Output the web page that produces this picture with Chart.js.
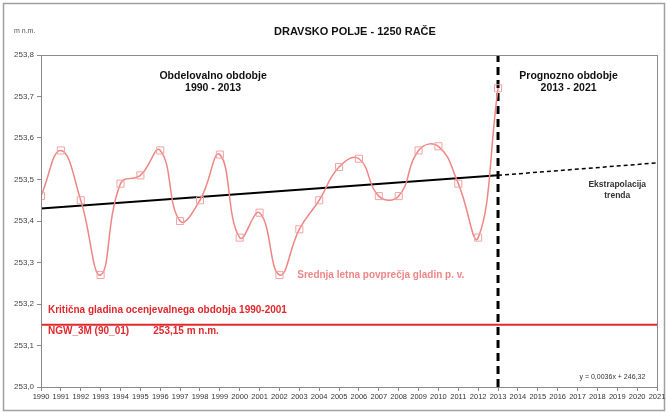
<!DOCTYPE html>
<html>
<head>
<meta charset="utf-8">
<script src="https://cdn.jsdelivr.net/npm/chart.js@4/dist/chart.umd.min.js"></script>
<style>
  body { margin: 0; background: #fff; }
  canvas { display: block; }
</style>
</head>
<body>
<canvas id="chart" width="667" height="412"></canvas>
<script>
// data
const years = [1990, 1991, 1992, 1993, 1994, 1995, 1996, 1997, 1998, 1999, 2000, 2001,
               2002, 2003, 2004, 2005, 2006, 2007, 2008, 2009, 2010, 2011, 2012, 2013];
const levels = [253.46, 253.57, 253.45, 253.27, 253.49, 253.51, 253.57, 253.40, 253.45, 253.56, 253.36, 253.42,
                253.27, 253.38, 253.45, 253.53, 253.55, 253.46, 253.46, 253.57, 253.58, 253.49, 253.36, 253.72];
const trendYears = [1990, 2013];
const trendValues = [253.43, 253.51];
const extrapYears = [2013, 2021];
const extrapValues = [253.51, 253.54];
const criticalLevel = 253.15;
const splitYear = 2013;
const xRange = [1990, 2021];
const yRange = [253.0, 253.8];

const FONT = "'Liberation Sans', Arial, sans-serif";
const PINK = '#ef8686';
const RED = '#e0282d';

const pts = (xs, ys) => xs.map((x, i) => ({ x, y: ys[i] }));

// static texts, positioned in data units
const labelsPlugin = {
  id: 'labels',
  beforeDraw(chart) {
    const { ctx } = chart;
    ctx.save();
    ctx.fillStyle = '#fff';
    ctx.fillRect(0, 0, chart.width, chart.height);
    ctx.strokeStyle = '#a0a0a0';
    ctx.lineWidth = 1.5;
    ctx.strokeRect(3.5, 3.5, chart.width - 6, chart.height - 5);
    ctx.restore();
  },
  afterDraw(chart) {
    const { ctx, chartArea: a } = chart;
    const xs = chart.scales.x, ys = chart.scales.y;
    const X = v => xs.getPixelForValue(v), Y = v => ys.getPixelForValue(v);
    ctx.save();
    // plot frame
    ctx.strokeStyle = '#8a8a8a';
    ctx.lineWidth = 1;
    ctx.strokeRect(a.left + 0.5, a.top + 0.5, a.right - a.left, a.bottom - a.top);

    ctx.textBaseline = 'middle';
    ctx.textAlign = 'center';
    ctx.fillStyle = '#111';
    ctx.font = `bold 11px ${FONT}`;
    ctx.fillText('DRAVSKO POLJE - 1250 RAČE', 355, 32);

    ctx.font = `7px ${FONT}`;
    ctx.fillStyle = '#555';
    ctx.textAlign = 'left';
    ctx.fillText('m n.m.', 14, 31);

    ctx.textAlign = 'center';
    ctx.fillStyle = '#111';
    ctx.font = `bold 10.5px ${FONT}`;
    ctx.fillText('Obdelovalno obdobje', X(1998.66), Y(253.75));
    ctx.fillText('1990 - 2013', X(1998.66), Y(253.72));
    ctx.fillText('Prognozno obdobje', X(2016.55), Y(253.75));
    ctx.fillText('2013 - 2021', X(2016.55), Y(253.72));

    ctx.font = `bold 8.5px ${FONT}`;
    ctx.fillStyle = '#333';
    ctx.fillText('Ekstrapolacija', X(2019.0), Y(253.487));
    ctx.fillText('trenda', X(2019.0), Y(253.461));

    ctx.font = `bold 10px ${FONT}`;
    ctx.fillStyle = PINK;
    ctx.fillText('Srednja letna povprečja gladin p. v.', X(2007.1), Y(253.27));

    ctx.textAlign = 'left';
    ctx.fillStyle = RED;
    ctx.font = `bold 10px ${FONT}`;
    ctx.fillText('Kritična gladina ocenjevalnega obdobja 1990-2001', X(1990.35), Y(253.185));
    ctx.fillText('NGW_3M (90_01)', X(1990.35), Y(253.134));
    ctx.fillText('253,15 m n.m.', X(1995.65), Y(253.134));

    ctx.font = `7px ${FONT}`;
    ctx.fillStyle = '#333';
    ctx.fillText('y = 0,0036x + 246,32', X(2017.1), Y(253.025));
    ctx.restore();
  }
};

new Chart(document.getElementById('chart'), {
  type: 'line',
  data: {
    datasets: [
      {
        label: 'critical',
        data: pts(xRange, [criticalLevel, criticalLevel]),
        borderColor: RED,
        borderWidth: 2,
        pointRadius: 0,
        tension: 0
      },
      {
        label: 'levels',
        data: pts(years, levels),
        borderColor: PINK,
        borderWidth: 1.5,
        pointStyle: 'rect',
        pointRadius: 5,
        pointBorderWidth: 1,
        pointBorderColor: '#f3a3a3',
        pointBackgroundColor: 'rgba(0,0,0,0)',
        tension: 0.45
      },
      {
        label: 'trend',
        data: pts(trendYears, trendValues),
        borderColor: '#000',
        borderWidth: 2,
        pointRadius: 0,
        tension: 0
      },
      {
        label: 'extrap',
        data: pts(extrapYears, extrapValues),
        borderColor: '#000',
        borderWidth: 1.5,
        borderDash: [4, 3],
        pointRadius: 0,
        tension: 0
      },
      {
        label: 'split',
        data: pts([splitYear, splitYear], yRange),
        borderColor: '#000',
        borderWidth: 3,
        borderDash: [8, 5],
        pointRadius: 0,
        tension: 0
      }
    ]
  },
  options: {
    responsive: false,
    animation: false,
    layout: { padding: { top: 55, right: 10, left: 0, bottom: 0 } },
    plugins: { legend: { display: false }, tooltip: { enabled: false } },
    scales: {
      x: {
        type: 'linear',
        min: xRange[0],
        max: xRange[1],
        afterFit: s => { s.height = 25; },
        afterBuildTicks: s => {
          const t = [];
          for (let v = xRange[0]; v <= xRange[1]; v++) t.push({ value: v });
          s.ticks = t;
        },
        grid: { drawOnChartArea: false, tickLength: 4, color: '#8a8a8a' },
        border: { color: '#8a8a8a' },
        ticks: {
          autoSkip: false,
          maxRotation: 0,
          padding: 1,
          color: '#333',
          font: { family: FONT, size: 7.5 },
          callback: v => String(v)
        }
      },
      y: {
        min: yRange[0],
        max: yRange[1],
        afterFit: s => { s.width = 41; },
        grid: { drawOnChartArea: false, tickLength: 4, color: '#8a8a8a' },
        border: { color: '#8a8a8a' },
        ticks: {
          stepSize: 0.1,
          padding: 3,
          color: '#444',
          font: { family: FONT, size: 8 },
          callback: v => v.toFixed(1).replace('.', ',')
        }
      }
    }
  },
  plugins: [labelsPlugin]
});
</script>
</body>
</html>
